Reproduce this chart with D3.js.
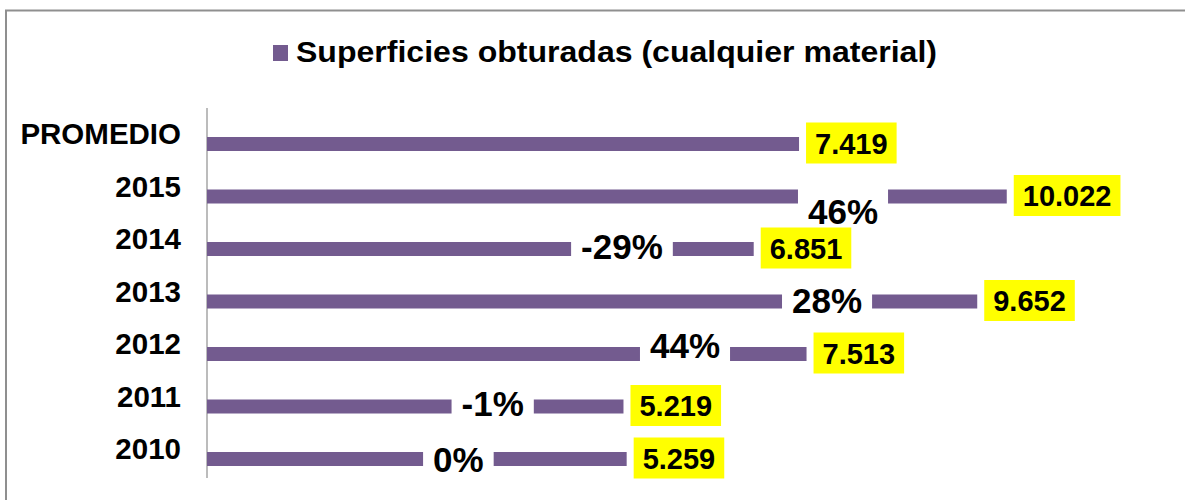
<!DOCTYPE html>
<html>
<head>
<meta charset="utf-8">
<script src="https://cdn.jsdelivr.net/npm/d3@7"></script>
<style>
  html, body { margin: 0; padding: 0; background: #fff; }
  svg { display: block; }
  text { font-family: "Liberation Sans", Arial, sans-serif; font-weight: bold; fill: #000; }
</style>
</head>
<body>
<svg id="chart" width="1185" height="500"></svg>
<script>
// ---- data ----
const categories = ["PROMEDIO", "2015", "2014", "2013", "2012", "2011", "2010"];
const values = [7.419, 10.022, 6.851, 9.652, 7.513, 5.219, 5.259];
const valueLabels = ["7.419", "10.022", "6.851", "9.652", "7.513", "5.219", "5.259"];
const changeLabels = [null, "46%", "-29%", "28%", "44%", "-1%", "0%"];
const seriesName = "Superficies obturadas (cualquier material)";

// ---- layout (label placement, not data) ----
const changeLabelX = [null, 7.97, 5.20, 7.77, 5.99, 3.58, 3.15]; // in value units
const changeLabelDy = [0, 15, -3, -1, -9, -3, 0];                 // px

const W = 1185, H = 500;
const barColor = "#735b8f";
const svg = d3.select("#chart");

// frame
svg.append("rect").attr("x", 6).attr("y", 10.5).attr("width", 1300).attr("height", 700)
  .attr("fill", "#fff").attr("stroke", "#8f8f8f").attr("stroke-width", 2);

const x = d3.scaleLinear().domain([0, 10]).range([207, 1005]);
const y = d3.scaleBand().domain(categories).range([117.75, 485.25]).padding(0);
const yc = c => y(c) + y.bandwidth() / 2;
const barH = 14;

// legend / title
svg.append("rect").attr("x", 273).attr("y", 45).attr("width", 15).attr("height", 16).attr("fill", barColor);
svg.append("text").attr("x", 296).attr("y", 61.5)
  .attr("font-size", 29).attr("textLength", 641).attr("lengthAdjust", "spacingAndGlyphs")
  .text(seriesName);

// axis
const axis = d3.axisLeft(y).tickSize(0).tickPadding(26);
const gAxis = svg.append("g").attr("transform", "translate(207,0)").call(axis);
gAxis.select(".domain").remove();
gAxis.selectAll(".tick text")
  .attr("font-size", 29.5).attr("font-family", "Liberation Sans, Arial, sans-serif")
  .attr("font-weight", "bold").attr("fill", "#000")
  .attr("dy", "0").attr("y", 0);
svg.append("line").attr("x1", 207).attr("x2", 207).attr("y1", 108).attr("y2", 478)
  .attr("stroke", "#a6a6a6").attr("stroke-width", 1.5);

const data = categories.map((c, i) => ({
  c, v: values[i], lbl: valueLabels[i], ch: changeLabels[i], chx: changeLabelX[i], chdy: changeLabelDy[i]
}));

// bars
svg.append("g").selectAll("rect").data(data).join("rect")
  .attr("x", x(0)).attr("y", d => yc(d.c) - barH / 2)
  .attr("width", d => x(d.v) - x(0)).attr("height", barH)
  .attr("fill", barColor);

// change labels with white background
const chG = svg.append("g").selectAll("g").data(data.filter(d => d.ch)).join("g");
chG.each(function(d) {
  const g = d3.select(this);
  const cx = x(d.chx), cy = yc(d.c) + d.chdy;
  const t = g.append("text").attr("x", cx).attr("y", cy).attr("text-anchor", "middle")
    .attr("dominant-baseline", "central").attr("font-size", 35).text(d.ch);
  const w = t.node().getComputedTextLength();
  g.insert("rect", "text").attr("x", cx - w / 2 - 10).attr("y", cy - 25)
    .attr("width", w + 20).attr("height", 50).attr("fill", "#fff");
});

// value labels in yellow boxes
const vG = svg.append("g").selectAll("g").data(data).join("g");
vG.each(function(d) {
  const g = d3.select(this);
  const x0 = x(d.v) + 7, cy = yc(d.c) - 1;
  const t = g.append("text").attr("x", x0 + 9).attr("y", cy + 10.5)
    .attr("font-size", 29).text(d.lbl);
  const w = t.node().getComputedTextLength();
  g.insert("rect", "text").attr("x", x0).attr("y", cy - 20.5)
    .attr("width", w + 18).attr("height", 41).attr("fill", "#ffff00");
});
</script>
</body>
</html>
